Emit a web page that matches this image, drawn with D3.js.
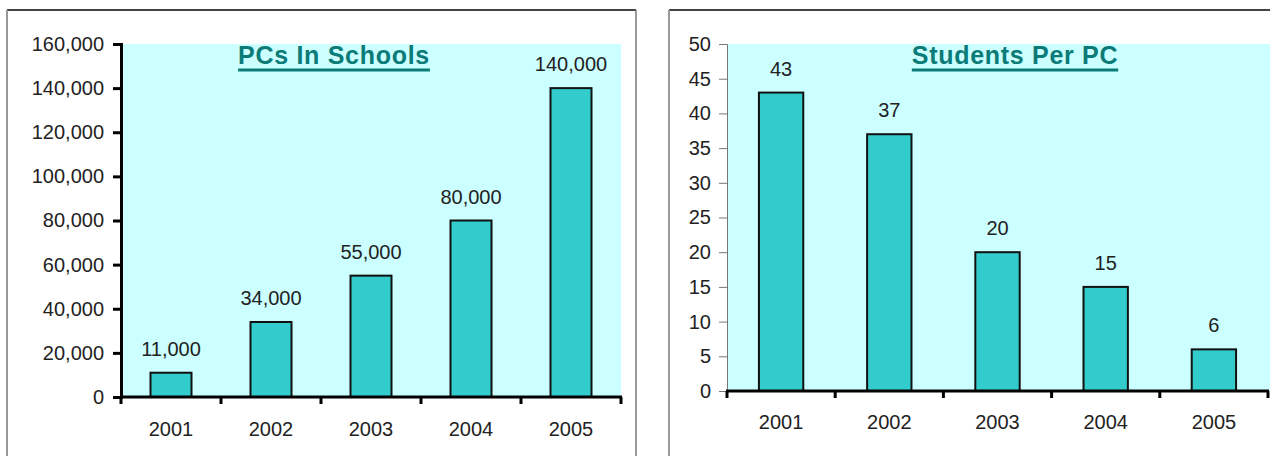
<!DOCTYPE html>
<meta charset="utf-8">
<script src="https://cdn.jsdelivr.net/npm/d3@7"></script>
<style>
body { margin: 0; background: #fff; }
text { font-family: "Liberation Sans", Arial, sans-serif; fill: #222; }
.title { font-weight: 700; fill: #0b7b78; }
</style>
<body>
<script>

var years = ["2001", "2002", "2003", "2004", "2005"];
var pcs = [11000, 34000, 55000, 80000, 140000];
var students = [43, 37, 20, 15, 6];
var pcTicks = [0, 20000, 40000, 60000, 80000, 100000, 120000, 140000, 160000];
var studentTicks = [0, 5, 10, 15, 20, 25, 30, 35, 40, 45, 50];

var width = 1270, height = 456;

var svg = d3.select("body").append("svg")
    .attr("width", width)
    .attr("height", height);

// panel frames
function frame(x0, x1) {
  svg.append("line").attr("x1", x0).attr("x2", x1).attr("y1", 10).attr("y2", 10)
      .style("stroke", "#444").style("stroke-width", 2);
  svg.append("line").attr("x1", x0).attr("x2", x0).attr("y1", 10).attr("y2", height)
      .style("stroke", "#999").style("stroke-width", 2);
  if (x1 < width) {
    svg.append("line").attr("x1", x1).attr("x2", x1).attr("y1", 10).attr("y2", height)
        .style("stroke", "#777").style("stroke-width", 1.5);
  }
}
frame(7, 636);
frame(669, 1272);

function chart(opt) {
  var x = d3.scaleBand().domain(years).range([opt.left, opt.right]);
  var y = d3.scaleLinear().domain([0, opt.max]).range([opt.bottom, opt.top]);
  var g = svg.append("g");

  g.append("rect")
      .attr("x", opt.left).attr("y", opt.top)
      .attr("width", opt.bgRight - opt.left).attr("height", opt.bottom - opt.top)
      .style("fill", "#ccffff");

  // y axis
  var ya = g.append("g")
      .attr("transform", "translate(" + opt.left + ",0)")
      .call(d3.axisLeft(y).tickValues(opt.ticks).tickSize(opt.yTick).tickPadding(opt.yPad)
        .tickFormat(opt.fmt));
  ya.select(".domain").style("stroke", opt.yColor).style("stroke-width", opt.yWidth);
  ya.selectAll(".tick line").style("stroke", opt.yColor).style("stroke-width", opt.yWidth);
  ya.selectAll("text").style("font-size", "20px").style("fill", "#222");

  // bars
  g.selectAll(".bar")
      .data(opt.values)
      .enter().append("rect")
      .attr("class", "bar")
      .attr("x", function(d, i) { return x(years[i]) + x.bandwidth() * (1 - opt.barW) / 2; })
      .attr("y", function(d) { return y(d); })
      .attr("width", x.bandwidth() * opt.barW)
      .attr("height", function(d) { return opt.bottom - y(d); })
      .style("fill", "#33cccc")
      .style("stroke", "#111")
      .style("stroke-width", 2);

  // value labels
  g.selectAll(".val")
      .data(opt.values)
      .enter().append("text")
      .attr("class", "val")
      .attr("x", function(d, i) { return x(years[i]) + x.bandwidth() / 2; })
      .attr("y", function(d) { return y(d) - 17; })
      .attr("text-anchor", "middle")
      .style("font-size", "20px")
      .text(function(d) { return opt.fmt(d); });

  // x axis
  var xa = g.append("g")
      .attr("transform", "translate(0," + opt.bottom + ")")
      .call(d3.axisBottom(x).tickSize(0).tickPadding(opt.xPad));
  xa.select(".domain").remove();
  xa.selectAll("text").style("font-size", "20px").style("fill", "#222");
  g.append("line")
      .attr("x1", opt.left - 1).attr("x2", opt.right + 1)
      .attr("y1", opt.bottom).attr("y2", opt.bottom)
      .style("stroke", "#000").style("stroke-width", 3);
  g.selectAll(".xt")
      .data(d3.range(years.length + 1))
      .enter().append("line")
      .attr("x1", function(i) { return opt.left + i * x.step(); })
      .attr("x2", function(i) { return opt.left + i * x.step(); })
      .attr("y1", opt.bottom).attr("y2", opt.bottom + 7)
      .style("stroke", "#000").style("stroke-width", 3);

  // title
  var t = g.append("text")
      .attr("class", "title")
      .attr("x", opt.titleX).attr("y", 64)
      .attr("text-anchor", "middle")
      .style("font-size", "25px")
      .style("letter-spacing", "0.7px")
      .text(opt.title);
  var bb = t.node().getBBox();
  g.append("line")
      .attr("x1", bb.x).attr("x2", bb.x + bb.width)
      .attr("y1", 70).attr("y2", 70)
      .style("stroke", "#0b7b78").style("stroke-width", 3);
}

chart({
  left: 121, right: 621, bgRight: 621, top: 44, bottom: 397,
  max: 160000, ticks: pcTicks, values: pcs, barW: 0.41,
  fmt: d3.format(","), yTick: 8, yPad: 9, yColor: "#000", yWidth: 3, xPad: 25,
  title: "PCs In Schools", titleX: 334
});

chart({
  left: 727, right: 1268, bgRight: 1270, top: 44, bottom: 391,
  max: 50, ticks: studentTicks, values: students, barW: 0.41,
  fmt: d3.format("d"), yTick: 8, yPad: 8, yColor: "#777", yWidth: 1, xPad: 24,
  title: "Students Per PC", titleX: 1015
});

</script>
</body>
